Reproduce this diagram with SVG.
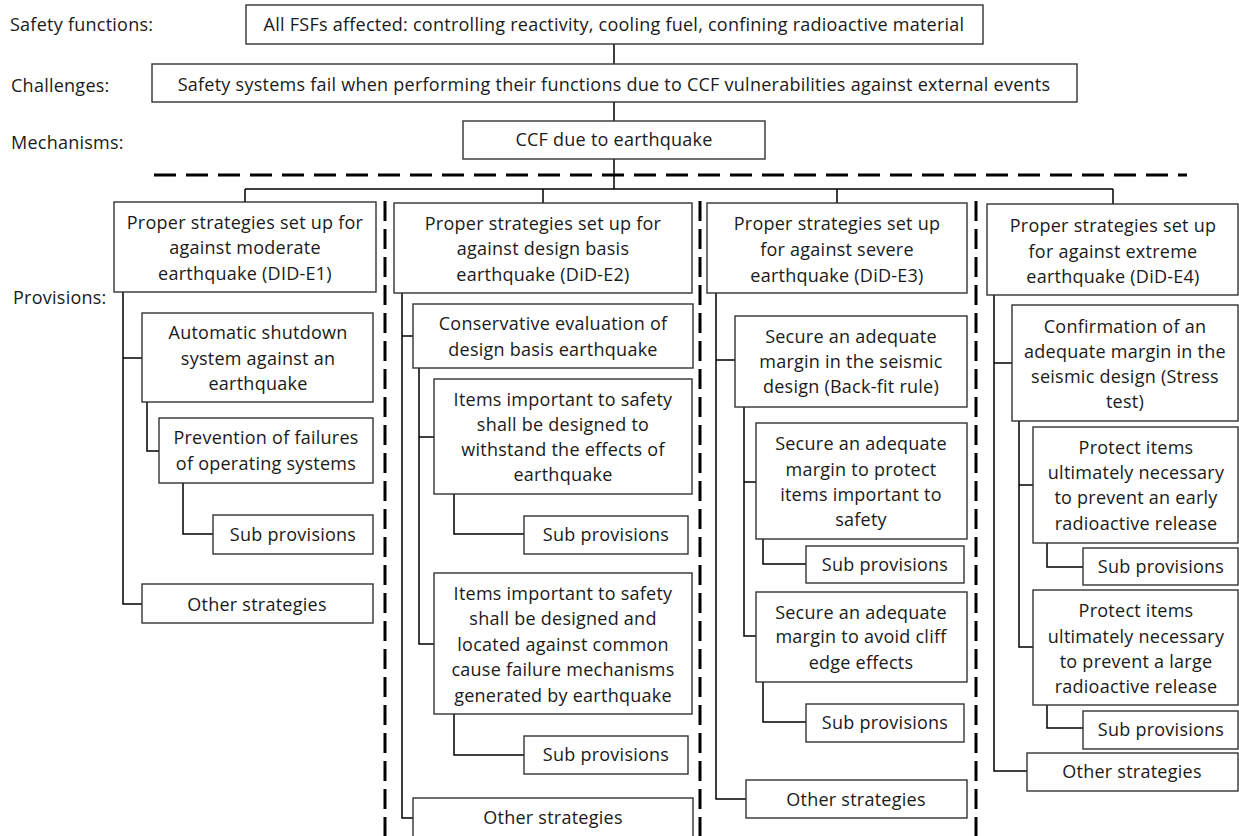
<svg xmlns="http://www.w3.org/2000/svg" width="1239" height="836" viewBox="0 0 1239 836">
  <style>
    .box { fill: #ffffff; stroke: #333333; stroke-width: 1.4; }
    .lbl { font-family: "Open Sans", "Noto Sans", sans-serif; font-size: 18px; letter-spacing: 0.25px; fill: #1a1a1a; text-anchor: middle; }
    .side { font-family: "Open Sans", "Noto Sans", sans-serif; font-size: 18px; letter-spacing: 0.25px; fill: #1a1a1a; }
    .conn { fill: none; stroke: #000000; stroke-width: 1.5; }
    .hdash { fill: none; stroke: #000000; stroke-width: 3; stroke-dasharray: 22 10; }
    .vdash { fill: none; stroke: #000000; stroke-width: 3; stroke-dasharray: 20 8; }
  </style>
  <rect width="1239" height="836" fill="#ffffff"/>

  <!-- level captions -->
  <g id="captions">
    <text class="side" x="10" y="31">Safety functions:</text>
    <text class="side" x="11" y="92">Challenges:</text>
    <text class="side" x="11" y="149">Mechanisms:</text>
    <text class="side" x="13" y="304">Provisions:</text>
  </g>

  <!-- separators -->
  <g id="separators">
    <path class="hdash" d="M154 175 H1187"/>
    <path class="vdash" d="M385 201 V836"/>
    <path class="vdash" d="M700 201 V836"/>
    <path class="vdash" d="M976 201 V836"/>
  </g>

  <!-- connectors -->
  <g id="connectors">
    <path class="conn" d="M614 44 V65 M614 102 V121 M614 159 V189"/>
    <path class="conn" d="M245 189 H1113 M245 189 V202 M543 189 V203 M837 189 V203 M1113 189 V204"/>
    <!-- column 1 -->
    <path class="conn" d="M123 292 V604 H142 M123 358 H142"/>
    <path class="conn" d="M147 402 V451 H159"/>
    <path class="conn" d="M183 483 V534 H213"/>
    <!-- column 2 -->
    <path class="conn" d="M402 293 V818 H413 M402 336 H413"/>
    <path class="conn" d="M419 368 V644 H434 M419 437 H434"/>
    <path class="conn" d="M454 494 V534 H524"/>
    <path class="conn" d="M454 714 V755 H524"/>
    <!-- column 3 -->
    <path class="conn" d="M716 293 V799 H746 M716 360 H735"/>
    <path class="conn" d="M744 407 V636 H756 M744 482 H756"/>
    <path class="conn" d="M763 539 V564 H806"/>
    <path class="conn" d="M763 682 V722 H806"/>
    <!-- column 4 -->
    <path class="conn" d="M994 295 V771 H1027 M994 363 H1012"/>
    <path class="conn" d="M1019 421 V647 H1033 M1019 485 H1033"/>
    <path class="conn" d="M1047 543 V567 H1083"/>
    <path class="conn" d="M1047 705 V728 H1083"/>
  </g>

  <!-- top chain -->
  <g id="fsf">
    <rect class="box" x="246" y="5" width="737" height="39"/>
    <text class="lbl" x="614" y="31">All FSFs affected: controlling reactivity, cooling fuel, confining radioactive material</text>
  </g>
  <g id="challenge">
    <rect class="box" x="152" y="64" width="925" height="38"/>
    <text class="lbl" x="614" y="91">Safety systems fail when performing their functions due to CCF vulnerabilities against external events</text>
  </g>
  <g id="mechanism">
    <rect class="box" x="463" y="121" width="302" height="38"/>
    <text class="lbl" x="614" y="146">CCF due to earthquake</text>
  </g>

  <!-- column 1: DID-E1 -->
  <g id="e1">
    <rect class="box" x="114" y="202" width="262" height="90"/>
    <text class="lbl" x="245" y="229">Proper strategies set up for</text>
    <text class="lbl" x="245" y="254">against moderate</text>
    <text class="lbl" x="245" y="280">earthquake (DID-E1)</text>
  </g>
  <g id="e1-shutdown">
    <rect class="box" x="142" y="313" width="231" height="89"/>
    <text class="lbl" x="258" y="339">Automatic shutdown</text>
    <text class="lbl" x="258" y="365">system against an</text>
    <text class="lbl" x="258" y="390">earthquake</text>
  </g>
  <g id="e1-prevention">
    <rect class="box" x="159" y="418" width="214" height="65"/>
    <text class="lbl" x="266" y="444">Prevention of failures</text>
    <text class="lbl" x="266" y="470">of operating systems</text>
  </g>
  <g id="e1-sub">
    <rect class="box" x="213" y="515" width="160" height="39"/>
    <text class="lbl" x="293" y="541">Sub provisions</text>
  </g>
  <g id="e1-other">
    <rect class="box" x="142" y="584" width="231" height="39"/>
    <text class="lbl" x="257" y="611">Other strategies</text>
  </g>

  <!-- column 2: DiD-E2 -->
  <g id="e2">
    <rect class="box" x="394" y="203" width="298" height="90"/>
    <text class="lbl" x="543" y="230">Proper strategies set up for</text>
    <text class="lbl" x="543" y="255">against design basis</text>
    <text class="lbl" x="543" y="281">earthquake (DiD-E2)</text>
  </g>
  <g id="e2-conservative">
    <rect class="box" x="413" y="304" width="280" height="64"/>
    <text class="lbl" x="553" y="330">Conservative evaluation of</text>
    <text class="lbl" x="553" y="356">design basis earthquake</text>
  </g>
  <g id="e2-withstand">
    <rect class="box" x="434" y="379" width="258" height="115"/>
    <text class="lbl" x="563" y="406">Items important to safety</text>
    <text class="lbl" x="563" y="431">shall be designed to</text>
    <text class="lbl" x="563" y="456">withstand the effects of</text>
    <text class="lbl" x="563" y="481">earthquake</text>
  </g>
  <g id="e2-sub1">
    <rect class="box" x="524" y="516" width="164" height="38"/>
    <text class="lbl" x="606" y="541">Sub provisions</text>
  </g>
  <g id="e2-located">
    <rect class="box" x="434" y="573" width="258" height="141"/>
    <text class="lbl" x="563" y="600">Items important to safety</text>
    <text class="lbl" x="563" y="625">shall be designed and</text>
    <text class="lbl" x="563" y="651">located against common</text>
    <text class="lbl" x="563" y="676">cause failure mechanisms</text>
    <text class="lbl" x="563" y="702">generated by earthquake</text>
  </g>
  <g id="e2-sub2">
    <rect class="box" x="524" y="736" width="164" height="38"/>
    <text class="lbl" x="606" y="761">Sub provisions</text>
  </g>
  <g id="e2-other">
    <rect class="box" x="413" y="798" width="280" height="42"/>
    <text class="lbl" x="553" y="824">Other strategies</text>
  </g>

  <!-- column 3: DiD-E3 -->
  <g id="e3">
    <rect class="box" x="707" y="203" width="260" height="90"/>
    <text class="lbl" x="837" y="230">Proper strategies set up</text>
    <text class="lbl" x="837" y="256">for against severe</text>
    <text class="lbl" x="837" y="282">earthquake (DiD-E3)</text>
  </g>
  <g id="e3-backfit">
    <rect class="box" x="735" y="316" width="232" height="91"/>
    <text class="lbl" x="851" y="343">Secure an adequate</text>
    <text class="lbl" x="851" y="368">margin in the seismic</text>
    <text class="lbl" x="851" y="393">design (Back-fit rule)</text>
  </g>
  <g id="e3-protect">
    <rect class="box" x="756" y="423" width="211" height="116"/>
    <text class="lbl" x="861" y="450">Secure an adequate</text>
    <text class="lbl" x="861" y="476">margin to protect</text>
    <text class="lbl" x="861" y="501">items important to</text>
    <text class="lbl" x="861" y="526">safety</text>
  </g>
  <g id="e3-sub1">
    <rect class="box" x="806" y="546" width="158" height="37"/>
    <text class="lbl" x="885" y="571">Sub provisions</text>
  </g>
  <g id="e3-cliff">
    <rect class="box" x="756" y="592" width="211" height="90"/>
    <text class="lbl" x="861" y="619">Secure an adequate</text>
    <text class="lbl" x="861" y="643">margin to avoid cliff</text>
    <text class="lbl" x="861" y="669">edge effects</text>
  </g>
  <g id="e3-sub2">
    <rect class="box" x="806" y="704" width="158" height="38"/>
    <text class="lbl" x="885" y="729">Sub provisions</text>
  </g>
  <g id="e3-other">
    <rect class="box" x="746" y="780" width="221" height="38"/>
    <text class="lbl" x="856" y="806">Other strategies</text>
  </g>

  <!-- column 4: DiD-E4 -->
  <g id="e4">
    <rect class="box" x="987" y="204" width="251" height="91"/>
    <text class="lbl" x="1113" y="232">Proper strategies set up</text>
    <text class="lbl" x="1113" y="258">for against extreme</text>
    <text class="lbl" x="1113" y="283">earthquake (DiD-E4)</text>
  </g>
  <g id="e4-stress">
    <rect class="box" x="1012" y="305" width="226" height="116"/>
    <text class="lbl" x="1125" y="333">Confirmation of an</text>
    <text class="lbl" x="1125" y="358">adequate margin in the</text>
    <text class="lbl" x="1125" y="383">seismic design (Stress</text>
    <text class="lbl" x="1125" y="408">test)</text>
  </g>
  <g id="e4-early">
    <rect class="box" x="1033" y="427" width="205" height="116"/>
    <text class="lbl" x="1136" y="454">Protect items</text>
    <text class="lbl" x="1136" y="479">ultimately necessary</text>
    <text class="lbl" x="1136" y="504">to prevent an early</text>
    <text class="lbl" x="1136" y="530">radioactive release</text>
  </g>
  <g id="e4-sub1">
    <rect class="box" x="1083" y="548" width="155" height="37"/>
    <text class="lbl" x="1161" y="573">Sub provisions</text>
  </g>
  <g id="e4-large">
    <rect class="box" x="1033" y="590" width="205" height="115"/>
    <text class="lbl" x="1136" y="617">Protect items</text>
    <text class="lbl" x="1136" y="643">ultimately necessary</text>
    <text class="lbl" x="1136" y="668">to prevent a large</text>
    <text class="lbl" x="1136" y="693">radioactive release</text>
  </g>
  <g id="e4-sub2">
    <rect class="box" x="1083" y="711" width="155" height="38"/>
    <text class="lbl" x="1161" y="736">Sub provisions</text>
  </g>
  <g id="e4-other">
    <rect class="box" x="1027" y="753" width="211" height="38"/>
    <text class="lbl" x="1132" y="778">Other strategies</text>
  </g>
</svg>
